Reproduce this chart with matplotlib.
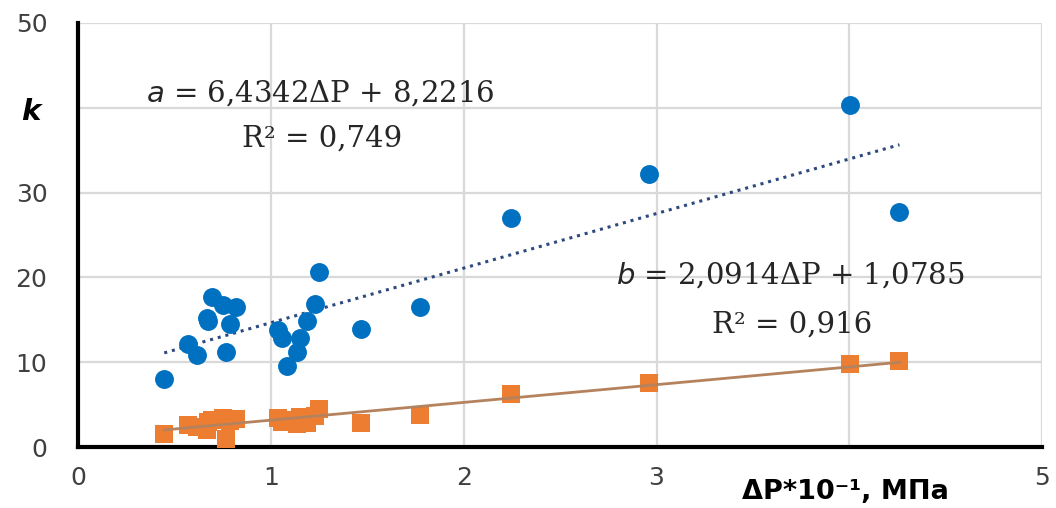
import matplotlib
matplotlib.use("Agg")
import matplotlib.pyplot as plt
import numpy as np

# Series a (blue circles)
a_x = [0.447, 0.57, 0.615, 0.667, 0.672, 0.693, 0.752, 0.765, 0.79, 0.82,
       1.038, 1.06, 1.085, 1.138, 1.15, 1.188, 1.228, 1.25, 1.47, 1.776,
       2.247, 2.96, 4.005, 4.26]
a_y = [8.0, 12.1, 10.85, 15.2, 14.8, 17.65, 16.7, 11.2, 14.5, 16.5,
       13.8, 12.9, 9.5, 11.2, 12.8, 14.8, 16.9, 20.6, 13.9, 16.5,
       27.0, 32.2, 40.3, 27.7]
# Series b (orange squares)
b_x = [0.447, 0.57, 0.615, 0.667, 0.672, 0.693, 0.752, 0.765, 0.79, 0.82,
       1.038, 1.06, 1.085, 1.138, 1.15, 1.188, 1.228, 1.25, 1.47, 1.776,
       2.247, 2.96, 4.005, 4.26]
b_y = [1.5, 2.6, 2.4, 2.0, 3.0, 3.2, 3.4, 1.0, 3.1, 3.3,
       3.4, 3.0, 3.2, 2.7, 3.5, 2.8, 3.6, 4.5, 2.8, 3.8,
       6.3, 7.5, 9.8, 10.1]

a_slope, a_int = 6.4342, 8.2216
b_slope, b_int = 2.0914, 1.0785

y_ticks = [0, 10, 20, 30, 40, 50]
y_ticklabels = ["0", "10", "20", "30", "", "50"]
x_ticks = [0, 1, 2, 3, 4, 5]
x_ticklabels = ["0", "1", "2", "3", "", "5"]

fig = plt.figure(figsize=(10.56, 5.08), dpi=100)
ax = fig.add_axes([0.0739, 0.12, 0.913, 0.835])

ax.set_xlim(0, 5)
ax.set_ylim(0, 50)
ax.set_xticks(x_ticks)
ax.set_xticklabels(x_ticklabels)
ax.set_yticks(y_ticks)
ax.set_yticklabels(y_ticklabels)
ax.grid(True, color="#D9D9D9", lw=1.6, zorder=0)
ax.set_axisbelow(True)
for s in ["top", "right"]:
    ax.spines[s].set_visible(False)
for s in ["left", "bottom"]:
    ax.spines[s].set_linewidth(3)
    ax.spines[s].set_color("black")
ax.tick_params(length=0, labelsize=18, colors="#404040", pad=14)
ax.tick_params(axis="y", pad=22)

xs = np.array([min(a_x), max(a_x)])
ax.plot(xs, a_slope * xs + a_int, ls=(0, (1, 1.6)), color="#2E4A7D", lw=2.2, zorder=2)
xb = np.array([min(b_x), max(b_x)])
ax.plot(xb, b_slope * xb + b_int, ls="-", color="#B5825E", lw=2, zorder=4)

ax.scatter(a_x, a_y, s=185, marker="o", color="#0070C0", zorder=3, linewidths=0)
ax.scatter(b_x, b_y, s=175, marker="s", color="#ED7D31", zorder=3, linewidths=0)

serif = "DejaVu Serif"
fs = 21
fig.text(320 / 1056, 1 - 93 / 508, r"$\it{a}$" + " = 6,4342ΔP + 8,2216", ha="center", va="center",
         fontsize=fs, family=serif, color="#262626")
fig.text(322 / 1056, 1 - 139 / 508, "R² = 0,749", ha="center", va="center",
         fontsize=fs, family=serif, color="#262626")
fig.text(790 / 1056, 1 - 275 / 508, r"$\it{b}$" + " = 2,0914ΔP + 1,0785", ha="center", va="center",
         fontsize=fs, family=serif, color="#262626")
fig.text(792 / 1056, 1 - 325 / 508, "R² = 0,916", ha="center", va="center",
         fontsize=fs, family=serif, color="#262626")

fig.text(31 / 1056, 1 - 112 / 508, "k", ha="center", va="center", fontsize=21,
         fontweight="bold", style="italic", color="black")
fig.text(845 / 1056, 1 - 492 / 508, "ΔP*10⁻¹, МПа", ha="center", va="center",
         fontsize=19.5, fontweight="bold", color="black")

fig.savefig("out.png", dpi=100)
